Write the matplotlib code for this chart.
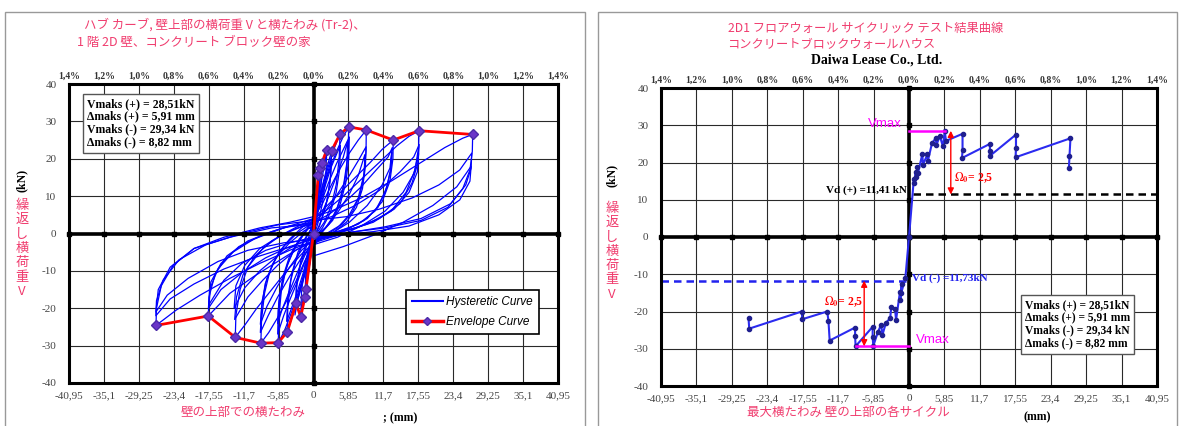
import matplotlib
matplotlib.use("Agg")
import matplotlib.pyplot as plt
from matplotlib.lines import Line2D
from matplotlib.patches import Rectangle

W, H = 1181, 426

# top-of-wall displacement grid (mm) and the matching drift ratio
x_ticks = [-40.95, -35.1, -29.25, -23.4, -17.55, -11.7, -5.85, 0,
           5.85, 11.7, 17.55, 23.4, 29.25, 35.1, 40.95]
x_tick_labels = ["-40,95", "-35,1", "-29,25", "-23,4", "-17,55", "-11,7", "-5,85", "0",
                 "5,85", "11,7", "17,55", "23,4", "29,25", "35,1", "40,95"]
drift_labels = ["1,4%", "1,2%", "1,0%", "0,8%", "0,6%", "0,4%", "0,2%", "0,0%",
                "0,2%", "0,4%", "0,6%", "0,8%", "1,0%", "1,2%", "1,4%"]
y_ticks = [-40, -30, -20, -10, 0, 10, 20, 30, 40]
y_tick_labels = ["-40", "-30", "-20", "-10", "0", "10", "20", "30", "40"]

summary_lines = ["Vmaks (+) = 28,51kN", "\u0394maks (+) = 5,91 mm",
                 "Vmaks (-) = 29,34 kN", "\u0394maks (-) = 8,82 mm"]
vmax_pos = (5.91, 28.51)
vmax_neg = (-8.82, -29.34)
vd_pos = 11.41
vd_neg = -11.73

# envelope of the hysteresis (first-cycle peaks), mm / kN
env_x = [-26.38, -17.62, -13.10, -8.82, -5.90, -4.39, -2.93, -2.14, -1.42, -1.26, 0,
         0.80, 1.09, 1.37, 2.21, 3.05, 4.44, 5.91, 8.84, 13.36, 17.67, 26.66]
env_y = [-24.6, -22.07, -27.8, -29.34, -29.2, -26.3, -18.7, -22.3, -16.9, -14.9, 0,
         15.6, 17.4, 18.8, 22.3, 22.2, 26.6, 28.51, 27.7, 25.0, 27.5, 26.5]

# load-displacement loops (mm, kN)
hysteresis_loops = [
    [(0, 4.5), (3, 6), (8, 9.5), (13, 14), (18, 19), (22, 23), (25, 25.5), (26.66, 26.5),
     (26.6, 22), (26.2, 17), (25, 12), (22.5, 7), (18, 3.5), (12, 1.5), (6, 0.3), (0, -2),
     (-4, -4.5), (-9, -8), (-14, -12), (-19, -16.5), (-23, -20.5), (-26.38, -24.6),
     (-26.3, -20), (-25.5, -14), (-23.5, -8.5), (-20, -4), (-15, -1), (-9, 1.5), (-4, 3), (0, 4.5)],
    [(0, 3.5), (5.5, 4.5), (11, 6.5), (16.5, 9.5), (21, 13), (24.5, 17), (26.5, 21.5),
     (26.4, 17.5), (25.5, 13), (23, 8), (18, 4), (12, 1.8), (5, 0), (0, -2.5),
     (-5, -4), (-10, -6.5), (-15, -9.5), (-20, -13.5), (-24, -17.5), (-26.4, -22),
     (-26.3, -18), (-25.2, -12.5), (-22.5, -7), (-18, -3), (-12, 0), (-6, 2.3), (0, 3.5)],
    [(0, -6), (5, -3.5), (10, -0.5), (15, 3), (20, 7.5), (24, 12.5), (26.4, 18),
     (26.2, 14), (24.5, 9), (21, 5), (16, 2), (10, 0.5), (4, -0.5), (0, -1.5),
     (-5, -2.5), (-11, -4.5), (-16, -7.5), (-21, -12), (-24.5, -16.5), (-26.4, -21),
     (-26, -15), (-24, -9), (-20, -4), (-14, -1), (-7, 1.5), (0, 2.5)],
    [(0, 4), (2, 6), (5, 10), (8, 14.5), (11, 19), (14, 23.5), (16, 26), (17.67, 27.5),
     (17.6, 23), (17, 17), (15.5, 11), (13, 6), (9, 2.5), (5, 0.5), (0, -2),
     (-3, -4.5), (-6, -7.5), (-10, -11.5), (-14, -16), (-17.62, -22.07),
     (-17.5, -17), (-16.5, -11), (-14.5, -6), (-11, -2), (-7, 0.5), (-3, 2.5), (0, 4)],
    [(0, 3), (3, 4.5), (7, 7.5), (11, 11.5), (14.5, 16.5), (16.8, 20.5), (17.7, 23.8),
     (17.5, 19), (16.5, 13.5), (14.5, 8), (11, 4), (7, 1.5), (3, 0), (0, -1.5),
     (-4, -3.5), (-8, -6.5), (-12, -10.5), (-15.5, -15), (-17.6, -20),
     (-17.4, -15), (-16, -9.5), (-13.5, -5), (-10, -1.5), (-5, 1.5), (0, 3)],
    [(0, -3), (4, -1), (8, 2), (12, 6), (15, 11), (16.8, 16), (17.6, 21.4),
     (17.4, 16.5), (16, 11), (13.5, 6.5), (10, 3), (6, 1), (2, -0.5), (0, -1),
     (-4, -2.5), (-8, -4.5), (-12, -8), (-15, -12.5), (-17.5, -19),
     (-17.2, -13), (-15.5, -8), (-12.5, -3.5), (-8, 0), (-4, 2), (0, 3)],
    [(0, 4), (2, 7), (4.5, 11), (7, 15), (9.5, 19), (11.5, 22.5), (13.36, 25.0),
     (13.3, 20), (12.8, 14), (11.5, 8.5), (9, 4), (6, 1.5), (3, 0), (0, -2.5),
     (-2, -5.5), (-4.5, -10), (-7, -15), (-9.5, -20), (-11.5, -24.5), (-13.1, -27.8),
     (-13, -22), (-12.3, -15), (-11, -9), (-8.5, -4), (-5.5, -0.5), (-2.5, 2), (0, 4)],
    [(0, 3), (2.5, 5), (5, 8), (8, 12.5), (10.5, 17), (12.5, 20.5), (13.2, 23.0),
     (13, 18), (12.3, 12.5), (10.8, 7), (8.5, 3.5), (5.5, 1), (2.5, -0.5), (0, -2),
     (-3, -4.5), (-6, -8.5), (-8.5, -12.5), (-11, -17), (-13.2, -23.0),
     (-12.9, -17), (-11.8, -11), (-9.8, -6), (-7, -2), (-3.5, 1), (0, 3)],
    [(0, -2), (3, 0), (6, 3), (9, 7.5), (11.5, 13), (12.8, 17.5), (13.1, 21.7),
     (12.9, 16.5), (12, 11), (10.3, 6), (7.5, 2.5), (4, 0.5), (0, -1),
     (-3, -3), (-6, -6), (-9, -10), (-11.5, -14.5), (-13.3, -20),
     (-13, -14), (-11.5, -8.5), (-9, -4), (-5.5, -0.5), (-2, 1.8), (0, 2.5)],
    [(0, 4), (1.5, 8), (3, 13), (4.5, 17.5), (6, 21.5), (7.5, 25), (8.84, 27.7),
     (8.8, 22), (8.4, 15.5), (7.5, 9.5), (6, 5), (4, 1.5), (2, -0.5), (0, -3),
     (-1.5, -7.5), (-3, -13), (-4.5, -18), (-6, -22.5), (-7.5, -26.5), (-8.82, -29.34),
     (-8.7, -23), (-8.2, -16), (-7.3, -10), (-5.8, -5), (-4, -1.5), (-2, 1.5), (0, 4)],
    [(0, 3), (2, 6), (4, 10.5), (6, 15.5), (7.5, 19.5), (8.8, 23.2),
     (8.7, 18), (8.2, 12), (7.2, 7), (5.5, 3), (3.5, 0.5), (1.5, -1), (0, -2.5),
     (-2, -6.5), (-4, -11.5), (-6, -17), (-7.6, -22), (-8.9, -26.5),
     (-8.7, -20), (-8.1, -13.5), (-6.8, -8), (-5, -3.5), (-2.8, 0), (0, 3)],
    [(0, -1), (2, 1.5), (4, 5.5), (6, 10.5), (7.5, 15.5), (8.6, 21.1),
     (8.5, 16), (7.8, 10.5), (6.6, 6), (4.8, 2.5), (2.5, 0.3), (0, -1.5),
     (-2, -4.5), (-4, -9), (-6, -14), (-7.8, -19.5), (-8.9, -24.3),
     (-8.6, -18), (-7.8, -12), (-6.3, -6.5), (-4, -2.5), (-1.5, 0.8), (0, 2)],
    [(0, 4), (1, 9), (2, 14), (3, 18.5), (4, 22.5), (5, 26), (5.91, 28.51),
     (5.8, 22), (5.4, 15.5), (4.6, 9.5), (3.5, 5), (2, 1.5), (0, -2.5),
     (-1, -7.5), (-2, -13), (-3, -18), (-4, -22.5), (-5, -26.5), (-5.9, -29.2),
     (-5.8, -22.5), (-5.4, -15.5), (-4.6, -9.5), (-3.4, -4.5), (-1.8, -0.5), (0, 4)],
    [(0, 3), (1.2, 8), (2.5, 13.5), (3.8, 18.5), (5, 22.5), (6, 25.8),
     (5.9, 20), (5.4, 13.5), (4.5, 8), (3.2, 3.5), (1.5, 0.5), (0, -2),
     (-1.3, -7), (-2.6, -12.5), (-3.9, -17.5), (-5, -22), (-6, -26.9),
     (-5.9, -20.5), (-5.3, -13.5), (-4.3, -8), (-3, -3.5), (-1.3, 0.5), (0, 3)],
    [(0, 1), (1.3, 5), (2.7, 10.5), (4, 16), (5, 20.5), (5.7, 24.6),
     (5.6, 19), (5, 12.5), (4, 7), (2.6, 2.5), (1, 0), (0, -1.5),
     (-1.5, -6), (-3, -11.5), (-4.3, -16.5), (-5.3, -20.5), (-6, -24.1),
     (-5.8, -18), (-5.1, -11.5), (-4, -6), (-2.4, -1.5), (-0.8, 1.5), (0, 1)],
    [(0, 3), (0.8, 8), (1.6, 13), (2.5, 18), (3.4, 22.5), (4.44, 26.6),
     (4.3, 20), (3.8, 13), (3, 7.5), (1.8, 3), (0.5, 0), (0, -2),
     (-0.8, -7), (-1.7, -12.5), (-2.6, -17.5), (-3.5, -22), (-4.39, -26.3),
     (-4.3, -19.5), (-3.8, -12.5), (-2.9, -7), (-1.7, -2.5), (-0.5, 1), (0, 3)],
    [(0, 2), (0.9, 7), (1.9, 12.5), (2.9, 17.5), (3.8, 21), (4.5, 23.6),
     (4.4, 17.5), (3.8, 11), (2.8, 5.5), (1.5, 1.5), (0, -1.5),
     (-0.9, -6), (-1.9, -11.5), (-2.9, -16.5), (-3.8, -20.5), (-4.5, -23.5),
     (-4.3, -17), (-3.6, -10.5), (-2.6, -5), (-1.3, -1), (0, 2)],
    [(0, 2), (0.8, 8), (1.6, 13.5), (2.4, 18.5), (3.05, 22.2), (2.9, 16), (2.3, 9), (1.3, 3.5),
     (0, -1.5), (-0.8, -6.5), (-1.6, -11.5), (-2.4, -15.5), (-2.93, -18.7),
     (-2.8, -13), (-2.1, -7), (-1.1, -2), (0, 2)],
    [(0, 1.5), (0.9, 7.5), (1.8, 13), (2.6, 17.5), (3.0, 20), (2.8, 14), (2.1, 7.5), (1, 2),
     (0, -1), (-0.9, -7), (-1.8, -12.5), (-2.6, -17.5), (-3.1, -21.8),
     (-2.9, -15), (-2.2, -8.5), (-1.1, -3), (0, 1.5)],
    [(0, 1.5), (0.6, 7.5), (1.2, 13), (1.8, 18), (2.21, 22.3), (2.1, 15.5), (1.5, 8), (0.7, 2.5),
     (0, -1), (-0.6, -7), (-1.2, -13), (-1.8, -18), (-2.14, -22.3),
     (-2, -15.5), (-1.4, -8), (-0.6, -2.5), (0, 1.5)],
    [(0, 1), (0.5, 7.5), (1, 13.5), (1.37, 18.8), (1.25, 12), (0.7, 5), (0, -0.5),
     (-0.5, -6.5), (-1, -12), (-1.42, -16.9), (-1.3, -11), (-0.7, -4.5), (0, 1)],
    [(0, 1), (0.4, 7), (0.8, 12.5), (1.09, 17.4), (0.95, 11), (0.5, 4.5), (0, -0.5),
     (-0.5, -6), (-0.9, -10.5), (-1.26, -14.9), (-1.1, -9), (-0.6, -3.5), (0, 1)],
    [(0, 0), (0.3, 6), (0.6, 11), (0.8, 15.6), (0.7, 10), (0.3, 3.5), (0, -0.5),
     (-0.4, -5.5), (-0.8, -10), (-1.1, -13.5), (-0.9, -8), (-0.4, -2.5), (0, 0)],
]

# peak load of every cycle in loading order, push and pull side
cycle_pos = [(0, 0), (0.80, 15.6), (0.9, 14.6), (1.09, 17.4), (1.2, 16.0), (1.37, 18.8),
             (1.5, 17.3), (2.21, 22.3), (2.3, 19.4), (3.05, 22.2), (3.1, 20.3), (3.8, 25.2),
             (4.44, 26.6), (4.5, 24.6), (5.1, 27.1), (5.6, 24.3), (5.91, 28.51), (6.1, 25.8),
             (8.84, 27.7), (8.84, 23.3), (8.75, 21.2), (13.36, 25.0), (13.36, 23.0),
             (13.3, 21.7), (17.67, 27.5), (17.67, 23.8), (17.6, 21.4), (26.66, 26.5),
             (26.5, 21.7), (26.4, 18.4)]
cycle_neg = [(0, 0), (-0.6, -11.0), (-1.26, -14.9), (-1.2, -12.6), (-1.42, -16.9),
             (-1.5, -14.8), (-2.14, -22.3), (-2.3, -19.4), (-2.93, -18.7), (-3.1, -21.8),
             (-3.8, -23.0), (-4.39, -26.3), (-4.6, -23.5), (-5.1, -25.4), (-5.90, -29.2),
             (-6.0, -26.9), (-6.0, -24.1), (-8.82, -29.34), (-8.9, -26.5), (-8.9, -24.3),
             (-13.10, -27.8), (-13.3, -22.5), (-13.5, -20.0), (-17.62, -22.07),
             (-17.7, -20.0), (-26.38, -24.6), (-26.5, -21.8)]

SERIF = "Liberation Serif"
SANS = "Liberation Sans"
JP = ["Noto Sans CJK JP", "DejaVu Sans"]
PINK = "#F03C6E"

plt.rcParams["mathtext.fontset"] = "stix"

fig = plt.figure(figsize=(W / 100, H / 100), dpi=100)


def px(x, y):
    return x / W, 1 - y / H


def grid_panel(ax):
    ax.set_xlim(-40.95, 40.95)
    ax.set_ylim(-40, 40)
    ax.set_xticks(x_ticks)
    ax.set_xticklabels(x_tick_labels)
    ax.set_yticks(y_ticks)
    ax.set_yticklabels(y_tick_labels)
    ax.grid(True, color="#2a2a2a", linewidth=0.8)
    ax.set_axisbelow(True)
    ax.tick_params(axis="both", length=0, labelsize=8, labelcolor="#444444")
    ax.tick_params(axis="x", pad=6)
    ax.tick_params(axis="y", pad=9)
    for lab in ax.get_xticklabels() + ax.get_yticklabels():
        lab.set_fontfamily(SERIF)
    for sp in ax.spines.values():
        sp.set_linewidth(2.2)
        sp.set_zorder(8)
    ax.axhline(0, color="black", lw=2.6, zorder=4)
    ax.axvline(0, color="black", lw=2.6, zorder=4)
    ax.plot(x_ticks, [0] * len(x_ticks), "s", ms=2.6, color="black", zorder=5, clip_on=False)
    ax.plot([0] * len(y_ticks), y_ticks, "s", ms=2.6, color="black", zorder=5, clip_on=False)

    top = ax.secondary_xaxis("top")
    top.set_xticks(x_ticks)
    top.set_xticklabels(drift_labels)
    top.tick_params(length=0, pad=2, labelsize=7, labelcolor="#333333")
    top.spines["top"].set_visible(False)
    for lab in top.get_xticklabels():
        lab.set_fontfamily(SERIF)
        lab.set_fontweight("bold")


def side_label(x, y_kn, y_jp):
    fig.text(*px(x, y_kn), "(kN)", rotation=90, ha="center", va="center",
             family=SERIF, weight="bold", fontsize=8.5)
    fig.text(*px(x, y_jp), "\n".join("繰返し横荷重V"), ha="center", va="top",
             family=JP, color=PINK, fontsize=9.5, linespacing=1.13)


# panel frames
for x0, x1 in [(5, 585), (598, 1177)]:
    fig.patches.append(Rectangle(px(x0, 440), (x1 - x0) / W, 428 / H, transform=fig.transFigure,
                                 fill=False, edgecolor="#999999", lw=1))

# ---------------- left: hysteresis curve ----------------
ax1 = fig.add_axes([69 / W, 1 - 383 / H, 489 / W, 299 / H])
grid_panel(ax1)
for loop in hysteresis_loops:
    xs, ys = zip(*loop)
    ax1.plot(xs, ys, color="#0000FF", lw=0.9, zorder=3)
ax1.plot(env_x, env_y, color="#FF0000", lw=2, marker="D", ms=5,
         mfc="#6A35C8", mec="#4B2AA8", zorder=6)

ax1.text(-37.9, 36.3, "\n".join(summary_lines), ha="left", va="top", family=SERIF,
         weight="bold", fontsize=8.5, linespacing=1.1, zorder=9,
         bbox=dict(boxstyle="square,pad=0.35", fc="white", ec="#555555", lw=1))

handles = [Line2D([], [], color="#0000FF", lw=1.5),
           Line2D([], [], color="#FF0000", lw=2.5, marker="D", ms=4,
                  mfc="#6A35C8", mec="#4B2AA8")]
leg = ax1.legend(handles, ["Hysteretic Curve", "Envelope Curve"], loc="upper left",
                 bbox_to_anchor=(0.689, 0.311), fancybox=False, edgecolor="black",
                 framealpha=1, prop={"family": SANS, "style": "italic", "size": 8.5},
                 handlelength=2.6, borderpad=0.5, labelspacing=0.7, handletextpad=0.3,
                 borderaxespad=0)
leg.get_frame().set_linewidth(1.2)
leg.set_zorder(10)

fig.text(*px(84, 25), "ハブ カーブ, 壁上部の横荷重 V と横たわみ (Tr-2)、", ha="left", va="center",
         family=JP, color=PINK, fontsize=9)
fig.text(*px(77, 42), "1 階 2D 壁、コンクリート ブロック壁の家", ha="left", va="center",
         family=JP, color=PINK, fontsize=9)
side_label(22, 180, 199)
fig.text(*px(243, 412), "壁の上部での横たわみ", ha="center", va="center",
         family=JP, color=PINK, fontsize=9)
fig.text(*px(400, 418), "; (mm)", ha="center", va="center",
         family=SERIF, weight="bold", fontsize=8.5)

# ---------------- right: peak of each cycle ----------------
ax2 = fig.add_axes([661 / W, 1 - 386 / H, 496 / W, 298 / H])
grid_panel(ax2)
for seq in (cycle_pos, cycle_neg):
    xs, ys = zip(*seq)
    ax2.plot(xs, ys, color="#2B2BF0", lw=1.5, marker="o", ms=3,
             mfc="#1F1F8F", mec="#1F1F8F", zorder=6)

ax2.plot([0.7, 40.95], [vd_pos, vd_pos], color="black", lw=1.8, ls=(0, (3, 2)), zorder=5)
ax2.plot([-40.95, -0.3], [vd_neg, vd_neg], color="#2222EE", lw=1.8, ls=(0, (3, 2)), zorder=5)
ax2.text(-0.4, vd_pos + 1.1, "Vd (+) =11,41 kN", ha="right", va="center",
         family=SERIF, weight="bold", fontsize=8, zorder=7)
ax2.text(0.5, vd_neg + 0.6, "Vd (-) =11,73kN", ha="left", va="center",
         family=SERIF, weight="bold", fontsize=8, color="#2222EE", zorder=7)

ax2.plot([0, vmax_pos[0]], [vmax_pos[1], vmax_pos[1]], color="#FF00FF", lw=1.8, zorder=7)
ax2.plot([vmax_neg[0], 0], [vmax_neg[1], vmax_neg[1]], color="#FF00FF", lw=1.8, zorder=7)
ax2.text(-4.0, 30.3, "Vmax", ha="center", va="center", family=SANS,
         color="#FF00FF", fontsize=9.5, zorder=7)
ax2.text(3.9, -27.6, "Vmax", ha="center", va="center", family=SANS,
         color="#FF00FF", fontsize=9.5, zorder=7)

arrow = dict(arrowstyle="<|-|>", color="#FF0000", lw=1, mutation_scale=9, shrinkA=0, shrinkB=0)
ax2.annotate("", xy=(6.9, vmax_pos[1]), xytext=(6.9, vd_pos), arrowprops=arrow, zorder=7)
ax2.annotate("", xy=(-7.4, vmax_neg[1]), xytext=(-7.4, vd_neg), arrowprops=arrow, zorder=7)
ax2.text(7.4, 16.0, r"$\Omega_\mathbf{0}$= 2,5", ha="left", va="center", family=SERIF,
         weight="bold", fontsize=8.5, color="#FF0000", zorder=7)
ax2.text(-14.0, -17.4, r"$\Omega_\mathbf{0}$= 2,5", ha="left", va="center", family=SERIF,
         weight="bold", fontsize=8.5, color="#FF0000", zorder=7)

ax2.text(19.15, -16.6, "\n".join(summary_lines), ha="left", va="top", family=SERIF,
         weight="bold", fontsize=8.3, linespacing=1.1, zorder=9,
         bbox=dict(boxstyle="square,pad=0.35", fc="white", ec="#555555", lw=1))

fig.text(*px(728, 28), "2D1 フロアウォール サイクリック テスト結果曲線", ha="left", va="center",
         family=JP, color=PINK, fontsize=8.8)
fig.text(*px(727, 44), "コンクリートブロックウォールハウス", ha="left", va="center",
         family=JP, color=PINK, fontsize=8.8)
fig.text(*px(877, 60), "Daiwa Lease Co., Ltd.", ha="center", va="center",
         family=SERIF, weight="bold", fontsize=10)
side_label(612, 175, 202)
fig.text(*px(848, 412), "最大横たわみ 壁の上部の各サイクル", ha="center", va="center",
         family=JP, color=PINK, fontsize=9)
fig.text(*px(1037, 417), "(mm)", ha="center", va="center",
         family=SERIF, weight="bold", fontsize=8.5)

fig.savefig("out.png", dpi=100, facecolor="white")
